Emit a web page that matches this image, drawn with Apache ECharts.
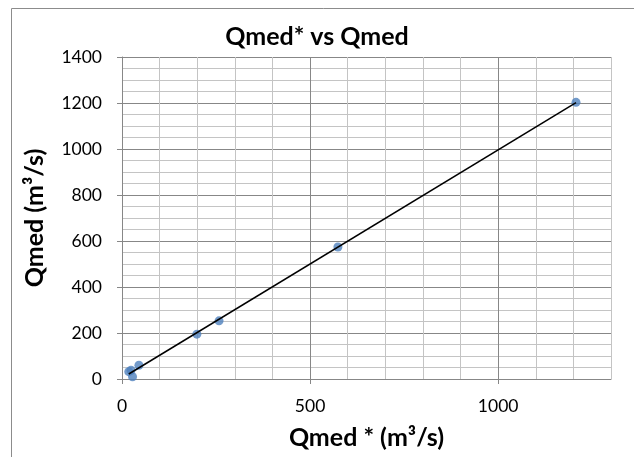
<!DOCTYPE html>
<html><head><meta charset="utf-8">
<script src="https://cdn.jsdelivr.net/npm/echarts@6/dist/echarts.min.js"></script>
<style>html,body{margin:0;padding:0;background:#fff}#c{width:634px;height:457px}</style>
</head><body><div id="c"></div>
<script>
var qmedStar = [1207, 574, 258, 199, 45, 24, 28, 18];
var qmed     = [1203, 574, 253, 195, 60, 38, 10, 32];
var xTicks = [0, 500, 1000];
var yTicks = [0, 200, 400, 600, 800, 1000, 1200, 1400];

var pts = qmedStar.map(function(x, i){ return [x, qmed[i]]; });
// least-squares trendline over the points
var n = pts.length, sx=0, sy=0, sxx=0, sxy=0;
pts.forEach(function(p){ sx+=p[0]; sy+=p[1]; sxx+=p[0]*p[0]; sxy+=p[0]*p[1]; });
var b = (n*sxy - sx*sy)/(n*sxx - sx*sx), a = (sy - b*sx)/n;
var xmin = Math.min.apply(null, qmedStar), xmax = Math.max.apply(null, qmedStar);
var trend = [[xmin, a + b*xmin], [xmax, a + b*xmax]];

var FONT = 'Lato';
var MAJ = '#878787', MIN = '#c4c4c4';
var chart = echarts.init(document.getElementById('c'));
chart.setOption({
  animation: false,
  textStyle: {fontFamily: FONT},
  title: {text: 'Qmed* vs Qmed', left: 'center', top: 19,
    textStyle: {fontFamily: FONT, fontSize: 25, fontWeight: 'bold', color: '#000'}},
  graphic: [{type: 'rect', shape: {x: 11.5, y: 8.5, width: 700, height: 600},
    style: {fill: 'none', stroke: '#8c8c8c', lineWidth: 1}, z: -10}],
  grid: {left: 122, right: 23, top: 57, bottom: 78},
  xAxis: [
    {type: 'value', min: 0, max: 1300, interval: 100,
     axisLine: {show: true, lineStyle: {color: MAJ}}, axisTick: {show: false}, axisLabel: {show: false},
     splitLine: {show: true, lineStyle: {color: [MAJ, MIN, MIN, MIN, MIN], width: 1}}},
    {type: 'value', min: 0, max: 1300, interval: 500, position: 'bottom',
     axisLine: {show: false}, axisTick: {show: true, length: 5, lineStyle: {color: MAJ}},
     splitLine: {show: false},
     axisLabel: {show: true, showMaxLabel: false, margin: 18, fontSize: 17.5, color: '#000', fontFamily: FONT,
       formatter: function(v){ return xTicks.indexOf(v) >= 0 ? String(v) : ''; }},
     name: 'Qmed * (m³/s)', nameLocation: 'middle', nameGap: 46,
     nameTextStyle: {fontFamily: FONT, fontSize: 25, fontWeight: 'bold', color: '#000'}}
  ],
  yAxis: [
    {type: 'value', min: 0, max: 1400, interval: 50,
     axisLine: {show: true, lineStyle: {color: MAJ}}, axisTick: {show: false}, axisLabel: {show: false},
     splitLine: {show: true, lineStyle: {color: [MAJ, MIN, MIN, MIN], width: 1}}},
    {type: 'value', min: 0, max: 1400, interval: 200, position: 'left',
     axisLine: {show: false}, axisTick: {show: true, length: 5, lineStyle: {color: MAJ}},
     splitLine: {show: false},
     axisLabel: {show: true, margin: 20, fontSize: 17.5, color: '#000', fontFamily: FONT,
       formatter: function(v){ return yTicks.indexOf(v) >= 0 ? String(v) : ''; }},
     name: 'Qmed (m³/s)', nameLocation: 'middle', nameGap: 75, nameRotate: 90,
     nameTextStyle: {fontFamily: FONT, fontSize: 25, fontWeight: 'bold', color: '#000'}}
  ],
  series: [
    {type: 'line', data: trend, xAxisIndex: 0, yAxisIndex: 0, showSymbol: false, symbol: 'none',
     lineStyle: {color: '#000', width: 1.5}, z: 3},
    {type: 'scatter', data: pts, xAxisIndex: 0, yAxisIndex: 0, symbol: 'circle', symbolSize: 9,
     itemStyle: {color: '#4f81bd'}, z: 2}
  ]
});
</script></body></html>
